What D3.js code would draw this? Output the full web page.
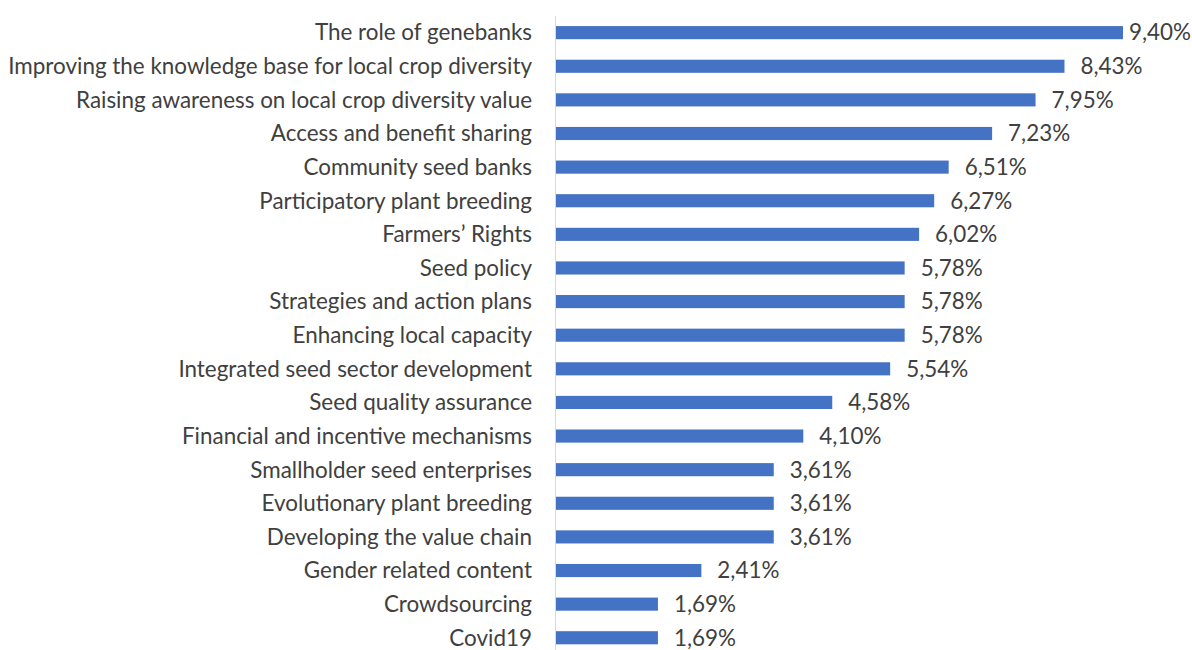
<!DOCTYPE html>
<meta charset="utf-8">
<style>
	body { margin: 0; background: #fff; }
	.lbl, .val {
		font-family: Lato, "Open Sans", sans-serif;
		fill: #404040;
	}
</style>
<svg width="1192" height="650"></svg>
<script src="https://cdn.jsdelivr.net/npm/d3@7"></script>
<script>

var categories = [
	"The role of genebanks",
	"Improving the knowledge base for local crop diversity",
	"Raising awareness on local crop diversity value",
	"Access and benefit sharing ",
	"Community seed banks",
	"Participatory plant breeding",
	"Farmers\u2019 Rights",
	"Seed policy",
	"Strategies and action plans",
	"Enhancing local capacity ",
	"Integrated seed sector development",
	"Seed quality assurance",
	"Financial and incentive mechanisms",
	"Smallholder seed enterprises",
	"Evolutionary plant breeding",
	"Developing the value chain",
	"Gender related content",
	"Crowdsourcing",
	"Covid19"
];
var values = [9.40, 8.43, 7.95, 7.23, 6.51, 6.27, 6.02, 5.78, 5.78, 5.78, 5.54, 4.58, 4.10, 3.61, 3.61, 3.61, 2.41, 1.69, 1.69];

var data = categories.map(function(c, i) { return {name: c, value: values[i]}; });

var svg = d3.select("svg"),
	margin = {top: 16, left: 556, right: 2},
	fontSize = 19;

var x = d3.scaleLinear().domain([0, 9.40]).range([margin.left, margin.left + 567]);
var y = d3.scaleBand()
	.domain(categories)
	.range([margin.top, margin.top + 19 * 33.6])
	.paddingInner(0.61)
	.paddingOuter(0.3);

// bars
svg.selectAll(".bar")
	.data(data).enter().append("rect")
	.attr("class", "bar")
	.attr("x", x(0))
	.attr("y", function(d) { return y(d.name); })
	.attr("width", function(d) { return x(d.value) - x(0); })
	.attr("height", y.bandwidth())
	.attr("fill", "#4472c4");

// vertical axis line
svg.append("line")
	.attr("x1", x(0) - 0.5).attr("x2", x(0) - 0.5)
	.attr("y1", margin.top).attr("y2", 650)
	.attr("stroke", "#d9d9d9")
	.attr("stroke-width", 1);

// category labels
var lbl = svg.selectAll(".lbl")
	.data(data).enter().append("text")
	.attr("class", "lbl")
	.attr("x", 532)
	.attr("y", function(d) { return y(d.name) + y.bandwidth() / 2; })
	.attr("dy", "0.35em")
	.attr("text-anchor", "end")
	.style("font-size", fontSize + "px")
	.text(function(d) { return d.name; });

// fit font so the longest label spans the same width as the reference
var longest = d3.max(lbl.nodes(), function(n) { return n.getComputedTextLength(); });
fontSize = fontSize * 524 / longest;
lbl.style("font-size", fontSize + "px");

// value labels, pulled in if they'd overflow, but never onto the bar
var fmt = function(v) { return v.toFixed(2).replace(".", ",") + "%"; };
var val = svg.selectAll(".val")
	.data(data).enter().append("text")
	.attr("class", "val")
	.attr("y", function(d) { return y(d.name) + y.bandwidth() / 2; })
	.attr("dy", "0.35em")
	.style("font-size", fontSize + "px")
	.text(function(d) { return fmt(d.value); });

val.attr("x", function(d) {
	var w = this.getComputedTextLength();
	return Math.max(x(d.value) + 6, Math.min(x(d.value) + 16, 1192 - margin.right - w));
});

</script>
